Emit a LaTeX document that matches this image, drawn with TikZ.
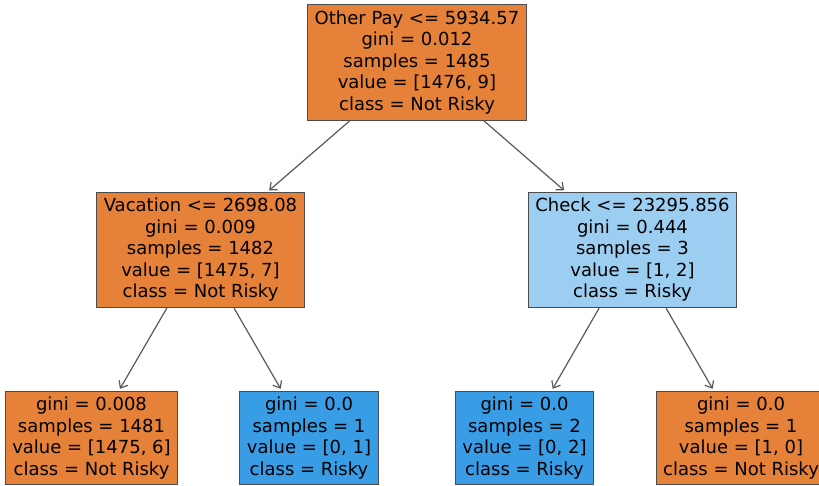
\documentclass[tikz,border=0pt]{standalone}
\usepackage{fontspec}
\setmainfont{DejaVu Sans}
\usetikzlibrary{arrows.meta}

\definecolor{notrisky}{HTML}{E58139}
\definecolor{risky}{HTML}{399DE5}
\definecolor{mixed}{HTML}{9CCEF2}

\begin{document}
\begin{tikzpicture}[x=1pt,y=-1pt,
  split/.style={draw=black!70,line width=1pt,align=center,
    inner xsep=7pt,inner ysep=6pt,font=\fontsize{18}{21.5}\selectfont},
  branch/.style={draw=black!65,line width=1.2pt,shorten >=2pt,
    -{Straight Barb[length=6pt,width=10pt]}}]
  \useasboundingbox (0,0) rectangle (819,486);
  % root split
  \node[split,fill=notrisky] (root)  at (417,62.5)
    {Other Pay <= 5934.57\\gini = 0.012\\samples = 1485\\value = [1476, 9]\\class = Not Risky};
  % second level
  \node[split,fill=notrisky] (vac)   at (200.5,250)
    {Vacation <= 2698.08\\gini = 0.009\\samples = 1482\\value = [1475, 7]\\class = Not Risky};
  \node[split,fill=mixed]    (check) at (632.5,250)
    {Check <= 23295.856\\gini = 0.444\\samples = 3\\value = [1, 2]\\class = Risky};
  % leaves
  \node[split,fill=notrisky] (leaf_1) at (91.5,438)
    {gini = 0.008\\samples = 1481\\value = [1475, 6]\\class = Not Risky};
  \node[split,fill=risky]    (leaf_2) at (309,438)
    {gini = 0.0\\samples = 1\\value = [0, 1]\\class = Risky};
  \node[split,fill=risky]    (leaf_3) at (524.5,438)
    {gini = 0.0\\samples = 2\\value = [0, 2]\\class = Risky};
  \node[split,fill=notrisky] (leaf_4) at (741,438)
    {gini = 0.0\\samples = 1\\value = [1, 0]\\class = Not Risky};
  \path[branch]
  (root)  edge (vac)
  (root)  edge (check)
  (vac)   edge (leaf_1)
  (vac)   edge (leaf_2)
  (check) edge (leaf_3)
  (check) edge (leaf_4);
\end{tikzpicture}
\end{document}
